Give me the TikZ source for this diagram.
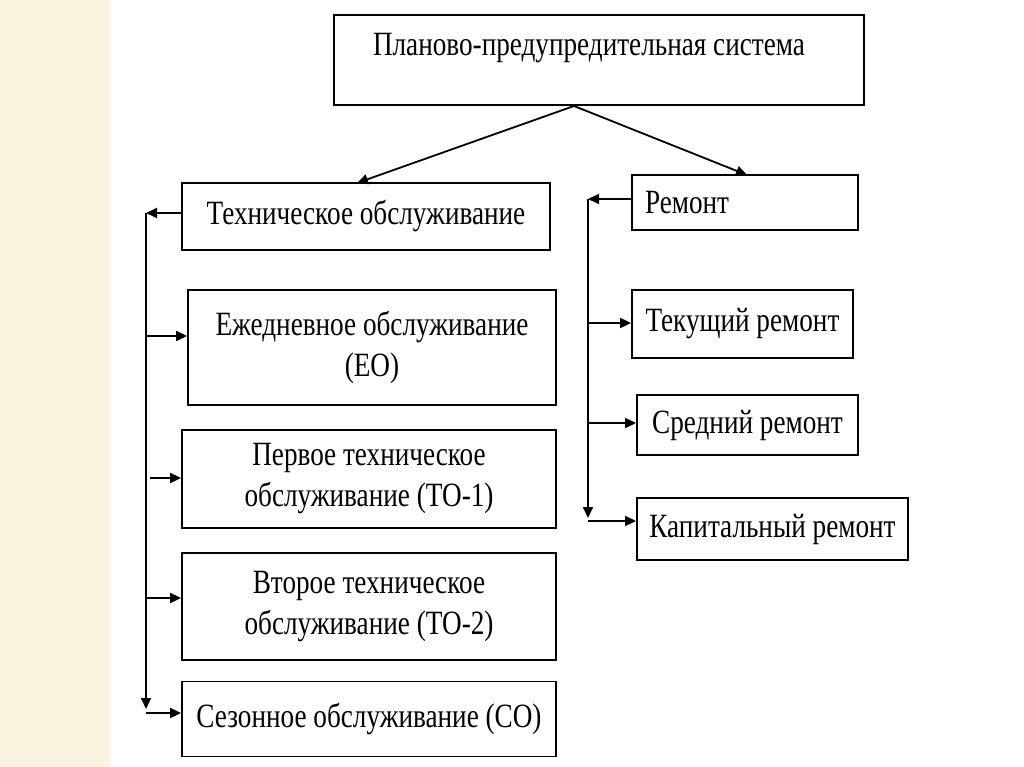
\documentclass[tikz,border=0pt]{standalone}
\usepackage{fontspec}
\setmainfont{Liberation Serif}[FakeStretch=0.8]
\usetikzlibrary{arrows.meta}
\definecolor{paper}{RGB}{250,243,224}
\begin{document}
\begin{tikzpicture}[x=1pt,y=-1pt,
  box/.style={draw, line width=1.8pt, inner sep=0pt, align=center,
    font=\fontsize{34}{41}\selectfont},
  lbl/.style={inner sep=0pt, align=center, font=\fontsize{34}{41}\selectfont},
  arr/.style={line width=1.8pt, -{Triangle[length=11pt,width=10pt]}}]
\useasboundingbox (0,0) rectangle (1024,767);
\fill[paper] (0,0) rectangle (110,767);

% top
\node[box, minimum width=530, minimum height=90] (top) at (599,60) {};
\node[lbl] (toptext) at (589,48) {Планово-предупредительная система};

% left column
\node[box, minimum width=368, minimum height=67] (to) at (366,216.5) {Техническое обслуживание};
\node[box, minimum width=368, minimum height=115] (eo) at (372,347.5) {Ежедневное обслуживание\\(ЕО)};
\node[box, minimum width=374, minimum height=98] (to1) at (369,479) {Первое техническое\\обслуживание (ТО-1)};
\node[box, minimum width=374, minimum height=107] (to2) at (369,606.5) {Второе техническое\\обслуживание (ТО-2)};
\node[box, minimum width=374, minimum height=75] (so) at (369,719) {Сезонное обслуживание (СО)};

% right column
\node[box, minimum width=226, minimum height=55, text width=200, inner xsep=13pt, align=left] (rem) at (745,202.5) {Ремонт};
\node[box, minimum width=221, minimum height=68] (tek) at (742.5,324) {Текущий ремонт};
\node[box, minimum width=221, minimum height=60] (sred) at (747.5,425) {Средний ремонт};
\node[box, minimum width=271, minimum height=62] (kap) at (772.5,529) {Капитальный ремонт};

% from top
\coordinate (src) at (574,106);
\coordinate (tipL) at (357,183);
\coordinate (tipR) at (747,175);
\draw[arr] (src) -- (tipL);
\draw[arr] (src) -- (tipR);

% left bus
\coordinate (L1) at (146,213);
\coordinate (Lend) at (146,709);
\draw[arr] (to.west |- L1) -- (L1);
\draw[arr] (L1) -- (Lend);
\coordinate (a1) at (146,336);
\coordinate (a2) at (150,478);
\coordinate (a3) at (146,598);
\coordinate (a4) at (146,713);
\draw[arr] (a1) -- (eo.west |- a1);
\draw[arr] (a2) -- (to1.west |- a2);
\draw[arr] (a3) -- (to2.west |- a3);
\draw[arr] (a4) -- (so.west |- a4);

% right bus
\coordinate (R1) at (588,199);
\coordinate (Rend) at (588,518);
\draw[arr] (rem.west |- R1) -- (R1);
\draw[arr] (R1) -- (Rend);
\coordinate (b1) at (588,323);
\coordinate (b2) at (588,423);
\coordinate (b3) at (588,521);
\draw[arr] (b1) -- (tek.west |- b1);
\draw[arr] (b2) -- (sred.west |- b2);
\draw[arr] (b3) -- (kap.west |- b3);
\end{tikzpicture}
\end{document}
